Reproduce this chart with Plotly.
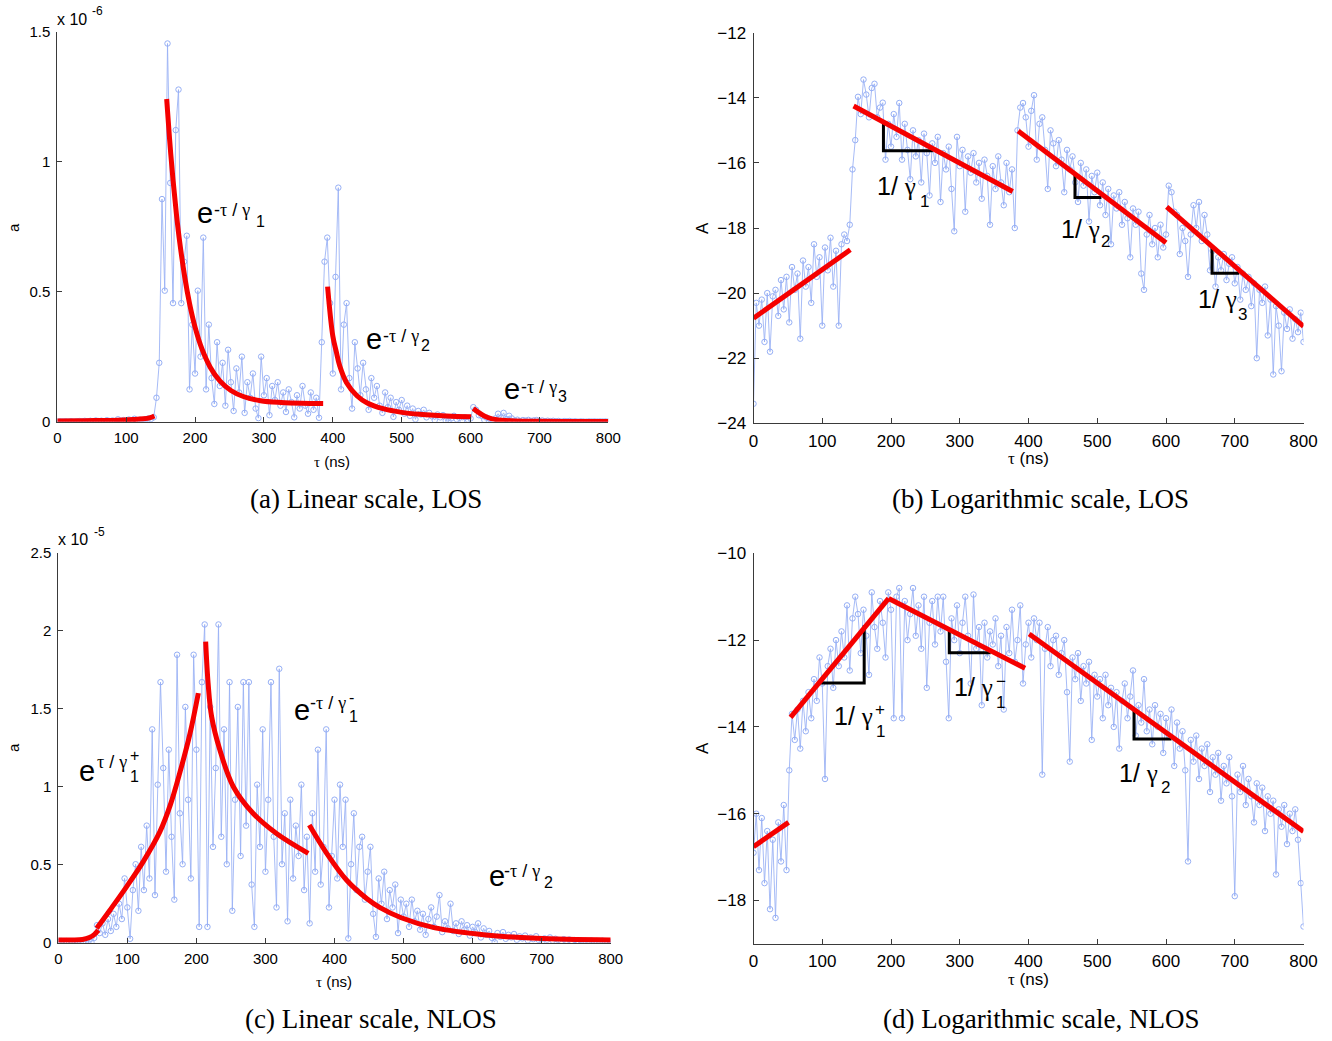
import numpy as np
import plotly.graph_objects as go

W, H = 1332, 1041
SANS = "Liberation Sans, Arial, sans-serif"
SERIF = "Liberation Serif, Times New Roman, serif"

tau = list(range(0, 801, 4))

A_los = [
    -23.4, -20.3, -21.0, -20.2, -21.5, -20.0, -21.8, -20.1, -19.9, -20.7,
    -19.6, -20.5, -19.5, -20.9, -19.2, -19.9, -19.4, -21.4, -19.0, -19.8,
    -19.2, -20.3, -18.5, -19.5, -18.9, -21.0, -18.6, -19.3, -18.3, -19.8,
    -18.7, -21.0, -18.5, -18.2, -18.4, -17.9, -16.2, -15.3, -13.97, -14.5,
    -13.44, -13.9, -14.6, -13.7, -13.57, -14.6, -14.3, -14.15, -15.9, -14.8,
    -15.5, -14.5, -15.2, -14.16, -15.9, -14.8, -15.6, -16.5, -15.0, -15.8,
    -15.3, -16.6, -15.1, -15.7, -17.0, -15.4, -16.0, -15.2, -17.2, -15.7,
    -16.2, -15.5, -16.8, -18.1, -15.2, -16.1, -15.6, -17.5, -15.8, -16.3,
    -15.7, -16.6, -16.0, -17.1, -15.9, -16.4, -17.9, -16.1, -16.8, -15.8,
    -16.6, -17.3, -16.0, -16.9, -16.2, -18.0, -15.0, -14.3, -14.16, -14.6,
    -15.5, -14.4, -13.92, -15.9, -14.8, -14.6, -15.6, -16.8, -15.0, -15.4,
    -16.1, -15.3, -15.9, -16.9, -15.6, -16.2, -15.8, -16.6, -17.2, -16.0,
    -16.7, -16.2, -17.8, -16.4, -16.9, -16.3, -17.3, -16.6, -17.6, -16.8,
    -18.5, -17.0, -17.4, -16.9, -17.9, -17.2, -17.7, -18.9, -17.4, -17.9,
    -17.5, -19.4, -19.9, -18.2, -17.6, -18.5, -18.0, -18.9, -17.9, -18.6,
    -18.2, -16.7, -16.9, -17.5, -17.6, -18.8, -18.0, -18.4, -19.5, -18.2,
    -17.3, -18.0, -17.2, -18.4, -17.6, -18.2, -19.3, -18.7, -19.8, -18.9,
    -19.3, -18.8, -19.6, -19.1, -18.9, -19.7, -19.2, -20.2, -19.4, -19.9,
    -19.5, -20.4, -19.7, -22.0, -19.9, -20.3, -19.8, -21.3, -20.2, -22.5,
    -20.4, -21.0, -22.4, -20.6, -21.1, -20.5, -21.4, -20.8, -21.2, -20.6,
    -21.5,
]

A_nlos = [
    -16.9, -16.0, -17.3, -16.1, -17.6, -16.4, -18.2, -16.6, -18.4, -16.2,
    -17.1, -15.8, -17.3, -15.0, -13.7, -14.3, -13.6, -14.5, -13.4, -14.1,
    -13.2, -13.8, -12.9, -13.4, -12.4, -13.0, -15.2, -12.6, -12.2, -13.1,
    -12.0, -12.6, -11.8, -12.4, -11.2, -12.7, -11.5, -11.0, -11.4, -12.3,
    -11.3, -11.9, -12.8, -10.9, -11.7, -12.2, -11.1, -11.6, -12.4, -10.9,
    -11.3, -13.8, -11.0, -10.8, -13.8, -11.1, -12.0, -11.4, -10.8, -11.9,
    -11.2, -12.2, -11.0, -13.1, -11.6, -11.1, -12.1, -11.0, -11.8, -11.0,
    -12.5, -13.8, -11.5, -12.0, -11.2, -12.3, -11.6, -11.0, -11.9, -13.0,
    -10.95, -12.2, -11.7, -13.5, -11.6, -12.4, -11.8, -12.1, -11.5, -12.6,
    -11.9, -13.6, -11.7, -12.3, -11.3, -12.5, -12.0, -11.2, -13.0, -12.1,
    -11.6, -12.4, -11.5, -12.0, -11.6, -15.1, -12.2, -11.7, -12.6, -12.0,
    -11.9, -12.8, -12.3, -12.0, -13.2, -14.8, -12.4, -12.9, -12.3, -13.4,
    -12.6, -13.0, -12.5, -14.3, -12.8, -13.3, -12.9, -13.8, -12.8, -13.5,
    -13.1, -14.0, -13.2, -14.5, -13.4, -13.0, -13.8, -13.3, -12.7, -14.2,
    -13.5, -13.9, -12.9, -14.1, -13.6, -14.4, -13.5, -14.0, -13.7, -14.6,
    -13.8, -14.2, -13.6, -14.9, -13.9, -14.5, -14.1, -15.0, -17.1, -14.3,
    -14.8, -14.2, -15.2, -14.5, -14.9, -14.4, -15.5, -14.7, -15.1, -14.6,
    -15.7, -14.9, -15.3, -14.7, -15.6, -17.9, -15.1, -15.5, -14.9, -15.8,
    -15.2, -15.6, -16.2, -15.3, -15.8, -15.4, -16.4, -15.6, -16.0, -15.7,
    -17.4, -15.9, -16.3, -15.8, -16.7, -16.0, -16.4, -15.9, -16.6, -17.6,
    -18.6,
]

# ---------------- fitted curves, linear panels (values in units of 1e-6 / 1e-5) ----------------
fit_a_tau = [
    [0, 40, 80, 110, 125, 135, 141],
    [158.8, 163, 168, 173, 178, 185, 192, 200, 210, 222, 236, 252, 270, 295, 325, 355, 386],
    [392.4, 400, 405, 410, 420, 435, 450, 473, 500, 530, 565, 601],
    [603.9, 612, 620, 630, 645, 665, 700, 750, 800],
]
fit_a_val = [
    [0.003, 0.004, 0.005, 0.008, 0.011, 0.016, 0.022],
    [1.242, 1.088, 0.931, 0.798, 0.686, 0.557, 0.455, 0.364, 0.280, 0.210, 0.157, 0.120, 0.097, 0.081, 0.074, 0.071, 0.070],
    [0.52, 0.33, 0.27, 0.215, 0.15, 0.10, 0.072, 0.05, 0.036, 0.028, 0.022, 0.019],
    [0.051, 0.035, 0.022, 0.012, 0.006, 0.003, 0.0015, 0.0008, 0.0005],
]
fit_c_tau = [
    [0, 20, 35, 45, 52, 58],
    [55.6, 75, 99, 123, 147, 162, 176, 190.7, 202.8],
    [213.4, 217, 222, 234, 253.5, 282, 316, 362],
    [363.5, 388.7, 417.7, 447.5, 466, 496.6, 545.6, 619, 692.6, 800],
]
fit_c_val = [
    [0.017, 0.017, 0.020, 0.033, 0.052, 0.080],
    [0.092, 0.21, 0.36, 0.52, 0.71, 0.88, 1.09, 1.34, 1.60],
    [1.93, 1.66, 1.45, 1.235, 1.0, 0.83, 0.70, 0.573],
    [0.754, 0.573, 0.40, 0.28, 0.225, 0.16, 0.095, 0.05, 0.028, 0.017],
]

# ---------------- fitted lines, log panels ----------------
fit_b_tau = [[0, 140.8], [145.6, 377], [385, 600], [601, 800]]
fit_b_val = [[-20.77, -18.67], [-14.25, -16.88], [-15.02, -18.45], [-17.35, -21.02]]
fit_d_tau = [[0, 51], [53.9, 196.6], [196.6, 395], [401, 800]]
fit_d_val = [[-16.76, -16.2], [-13.78, -11.04], [-11.04, -12.65], [-11.86, -16.41]]

# slope triangles
tri_b_tau = [[189, 189, 261], [467.6, 467.6, 506], [667, 667, 706.6]]
tri_b_val = [[-14.74, -15.63, -15.63], [-16.34, -17.06, -17.06], [-18.57, -19.39, -19.39]]
tri_d_tau = [[96.7, 161, 161], [284.8, 284.8, 345], [553.5, 553.5, 608]]
tri_d_val = [[-12.99, -12.99, -11.66], [-11.76, -12.29, -12.29], [-13.6, -14.28, -14.28]]

a_los = (np.exp(np.array(A_los)) * 1e6).tolist()
a_nlos = (np.exp(np.array(A_nlos)) * 1e5).tolist()

# ---------------- figure ----------------
BLUE_M = "rgb(150,175,245)"
BLUE_L = "rgba(150,175,245,0.85)"
RED = "rgb(245,0,0)"

fig = go.Figure()


def data_trace(y, ax):
    fig.add_trace(go.Scatter(
        x=tau, y=y, mode="lines+markers", xaxis="x" + ax, yaxis="y" + ax,
        line=dict(color=BLUE_L, width=1),
        marker=dict(symbol="circle-open", size=5.5, color=BLUE_M, line=dict(width=1)),
        showlegend=False, hoverinfo="skip"))


def seg_trace(xs, ys, ax, color, width, shape="linear"):
    fig.add_trace(go.Scatter(
        x=xs, y=ys, mode="lines", xaxis="x" + ax, yaxis="y" + ax,
        line=dict(color=color, width=width, shape=shape),
        showlegend=False, hoverinfo="skip"))


data_trace(a_los, "")
data_trace(A_los, "2")
data_trace(a_nlos, "3")
data_trace(A_nlos, "4")

for xs, ys in zip(tri_b_tau, tri_b_val):
    seg_trace(xs, ys, "2", "black", 3)
for xs, ys in zip(tri_d_tau, tri_d_val):
    seg_trace(xs, ys, "4", "black", 3)

for xs, ys in zip(fit_a_tau, fit_a_val):
    seg_trace(xs, ys, "", RED, 5, "spline")
for xs, ys in zip(fit_b_tau, fit_b_val):
    seg_trace(xs, ys, "2", RED, 5)
for xs, ys in zip(fit_c_tau, fit_c_val):
    seg_trace(xs, ys, "3", RED, 5, "spline")
for xs, ys in zip(fit_d_tau, fit_d_val):
    seg_trace(xs, ys, "4", RED, 5)


def px(x):
    return x / W


def py(y):
    return 1 - y / H


AX = "#3a3a3a"


def xax(x0, x1, fs):
    return dict(domain=[px(x0), px(x1)], range=[0, 800], tickvals=list(range(0, 801, 100)),
                showline=True, linecolor=AX, linewidth=1, ticks="inside", ticklen=5,
                tickcolor=AX, showgrid=False, zeroline=False, mirror=False, automargin=False,
                tickfont=dict(family=SANS, size=fs, color="black"), ticklabelstandoff=2)


def yax(y_top, y_bot, rng, vals, texts, fs, anchor):
    d = dict(domain=[py(y_bot), py(y_top)], range=rng, tickvals=vals,
             showline=True, linecolor=AX, linewidth=1, ticks="inside", ticklen=5,
             tickcolor=AX, showgrid=False, zeroline=False, mirror=False, anchor=anchor,
             automargin=False, ticklabelstandoff=3,
             tickfont=dict(family=SANS, size=fs, color="black"))
    if texts is not None:
        d["ticktext"] = texts
    return d


xa = xax(57.3, 608.3, 15); xa["anchor"] = "y"
xb = xax(753.5, 1303.5, 17); xb["anchor"] = "y2"
xc = xax(58.3, 610.7, 15); xc["anchor"] = "y3"
xd = xax(753.5, 1303.5, 17); xd["anchor"] = "y4"

ya = yax(32.0, 421.7, [0, 1.5], [0, 0.5, 1, 1.5], ["0", "0.5", "1", "1.5"], 15, "x")
yb = yax(32.7, 423.3, [-24, -12], list(range(-24, -11, 2)), None, 17, "x2")
yc = yax(552.7, 942.7, [0, 2.5], [0, 0.5, 1, 1.5, 2, 2.5], ["0", "0.5", "1", "1.5", "2", "2.5"], 15, "x3")
yd = yax(553.3, 943.9, [-19, -10], [-18, -16, -14, -12, -10], None, 17, "x4")

ann = []


def txt(x, y, s, size, family=SANS, anchor="left", angle=0):
    ann.append(dict(x=px(x), y=py(y), xref="paper", yref="paper", text=s, showarrow=False,
                    xanchor=anchor, yanchor="middle", textangle=angle, borderpad=0,
                    font=dict(size=size, family=family, color="black")))


def g(s):
    # Greek letters in a serif face, as in the reference's symbol font
    return "<span style='font-family:Liberation Serif'>" + s + "</span>"


# axis titles
txt(13, 228, "a", 15, anchor="center", angle=-90)
txt(13, 748, "a", 15, anchor="center", angle=-90)
txt(702, 228, "A", 17, anchor="center", angle=-90)
txt(702, 748, "A", 17, anchor="center", angle=-90)
txt(332, 461, g("τ") + " (ns)", 15, anchor="center")
txt(1028, 459, g("τ") + " (ns)", 17, anchor="center")
txt(334, 981, g("τ") + " (ns)", 15, anchor="center")
txt(1028, 979, g("τ") + " (ns)", 17, anchor="center")

# exponent multipliers
txt(56, 19, "x 10", 16)
txt(91, 11, "-6", 12)
txt(57, 539, "x 10", 16)
txt(92.5, 532, "-5", 12)

# exponential labels (linear panels)
E, SUP, SUB = 29, 18, 16
for (ex, ey, sx, sy, s, bx, by, b) in [
    (196, 213, 213, 210, "-" + g("τ") + " / " + g("γ"), 255, 221, "1"),
    (365, 339, 382, 336, "-" + g("τ") + " / " + g("γ"), 420, 345, "2"),
    (503, 389.5, 520, 387, "-" + g("τ") + " / " + g("γ"), 557, 396, "3"),
    (78, 771, 96, 761.5, g("τ") + " / " + g("γ"), 128.5, 776, "1"),
    (293, 709.5, 309, 702.5, "-" + g("τ") + " / " + g("γ"), 348, 716, "1"),
    (488, 876, 503, 871, "-" + g("τ") + " / " + g("γ"), 543, 882.5, "2"),
]:
    txt(ex, ey, "e", E)
    txt(sx, sy, s, SUP)
    txt(bx, by, b, SUB)
txt(128.5, 755, "+", SUB)
txt(348, 697, "-", SUB)

# slope labels (log panels)
M, S2 = 25, 17
for (mx, my, bx, by, b) in [
    (876, 186, 919, 201, "1"),
    (1060, 229, 1100, 242, "2"),
    (1197, 299, 1237, 314, "3"),
    (833, 716, 875, 731, "1"),
    (953, 687, 995, 702, "1"),
    (1118, 773, 1160, 787, "2"),
]:
    txt(mx, my, "1/ " + g("γ"), M)
    txt(bx, by, b, S2)
txt(874, 709, "+", S2)
txt(995, 681, "−", S2)

# captions
txt(365.5, 499, "(a) Linear scale, LOS", 27, SERIF, "center")
txt(1040.5, 499, "(b) Logarithmic scale, LOS", 27, SERIF, "center")
txt(370.5, 1019, "(c) Linear scale, NLOS", 27, SERIF, "center")
txt(1040.5, 1019, "(d) Logarithmic scale, NLOS", 27, SERIF, "center")

fig.update_layout(
    template="none",
    width=W, height=H, margin=dict(l=0, r=0, t=0, b=0, autoexpand=False),
    paper_bgcolor="white", plot_bgcolor="white", showlegend=False,
    xaxis=xa, yaxis=ya, xaxis2=xb, yaxis2=yb, xaxis3=xc, yaxis3=yc, xaxis4=xd, yaxis4=yd,
    annotations=ann, font=dict(family=SANS, color="black"),
)

fig.write_html("out.html", config={"displayModeBar": False},
               post_script="document.body.style.margin='0';document.body.style.padding='0';")
